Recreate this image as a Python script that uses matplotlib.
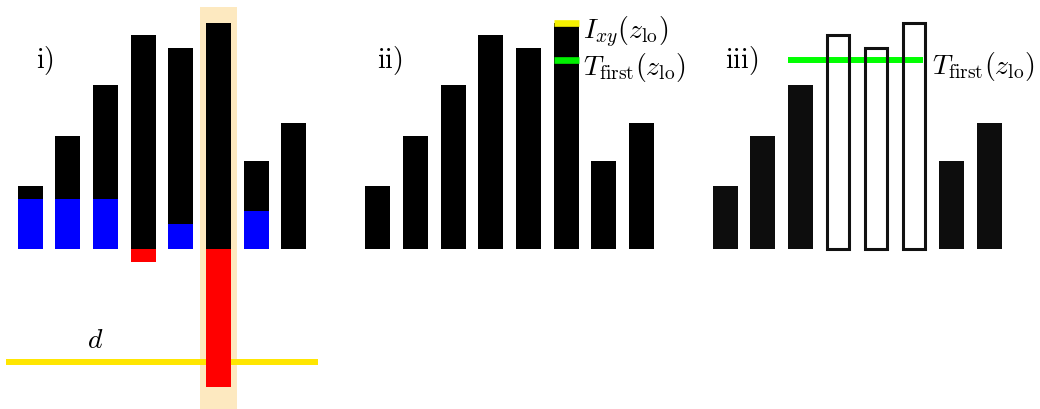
#Esquema de barras en tres paneles i), ii), iii)
import numpy as np
import matplotlib.pyplot as plt

plt.rcParams['mathtext.fontset'] = 'cm'

#Alturas de las barras (unidades arbitrarias)
alturas = [2.5, 4.5, 6.5, 8.5, 8.0, 9.0, 3.5, 5.0]
#Parte azul de cada barra en i)
azul = [1.97, 1.97, 1.97, 0.0, 0.98, 0.0, 1.48, 0.0]
#Parte roja (negativa) en i)
rojo = [0.0, 0.0, 0.0, -0.53, 0.0, -5.53, 0.0, 0.0]
#Barra resaltada y barras huecas en iii)
resaltada = 5
huecas = [3, 4, 5]
#Niveles horizontales
d = -4.5
I_xy = 9.0
T_first = 7.5

x = np.arange(len(alturas))
ancho = 0.663
off2 = 9.22
off3 = 18.44
fs = 20

fig = plt.figure(figsize=(10.4, 4.1), dpi=100)
ax = fig.add_axes([0, 0, 1, 1])
ax.set_xlim(-0.796, 26.79)
ax.set_ylim(-6.39, 9.94)
ax.axis('off')

#Panel i)
ax.bar(resaltada, 9.63 + 6.5, bottom=-6.5, width=0.99, color='#fde9c0', zorder=0)
ax.bar(x, alturas, width=ancho, color='black', zorder=2)
ax.bar(x, azul, width=ancho, color='#0000ff', zorder=3)
ax.bar(x, rojo, width=ancho, color='#ff0000', zorder=3)
ax.hlines(d, -0.64, 7.63, color='#ffe600', lw=4.3, zorder=1)
ax.text(1.72, -3.6, r'$d$', fontsize=fs, ha='center', va='center')
ax.text(0.16, 7.55, r'$\mathrm{i)}$', fontsize=fs, ha='left', va='center')

#Panel ii)
ax.bar(x + off2, alturas, width=ancho, color='black', zorder=2)
ax.hlines(I_xy, off2 + resaltada - ancho / 2, off2 + resaltada + ancho / 2,
          color='#f5f000', lw=4.8, zorder=3)
ax.hlines(T_first, off2 + resaltada - ancho / 2, off2 + resaltada + ancho / 2,
          color='#00f000', lw=4.8, zorder=3)
ax.text(off2 + 5.45, 8.65, r'$I_{xy}(z_{\rm lo})$', fontsize=fs, ha='left', va='center')
ax.text(off2 + 5.45, 7.27, r'$T_{\rm first}(z_{\rm lo})$', fontsize=fs, ha='left', va='center')
ax.text(off2 - 0.02, 7.55, r'$\mathrm{ii)}$', fontsize=fs, ha='left', va='center')

#Panel iii)
llenas = [i for i in x if i not in huecas]
ax.bar(x[llenas] + off3, np.array(alturas)[llenas], width=ancho, color='#0d0d0d', zorder=2)
ax.bar(x[huecas] + off3, np.array(alturas)[huecas], width=0.58, facecolor='none',
       edgecolor='#111111', lw=2.2, zorder=4)
ax.hlines(T_first, off3 + 1.66, off3 + 5.25, color='#00ff00', lw=4.3, zorder=3)
ax.text(off3 + 5.48, 7.3, r'$T_{\rm first}(z_{\rm lo})$', fontsize=fs, ha='left', va='center')
ax.text(off3 - 0.005, 7.55, r'$\mathrm{iii)}$', fontsize=fs, ha='left', va='center')

fig.savefig('out.png', dpi=100)
